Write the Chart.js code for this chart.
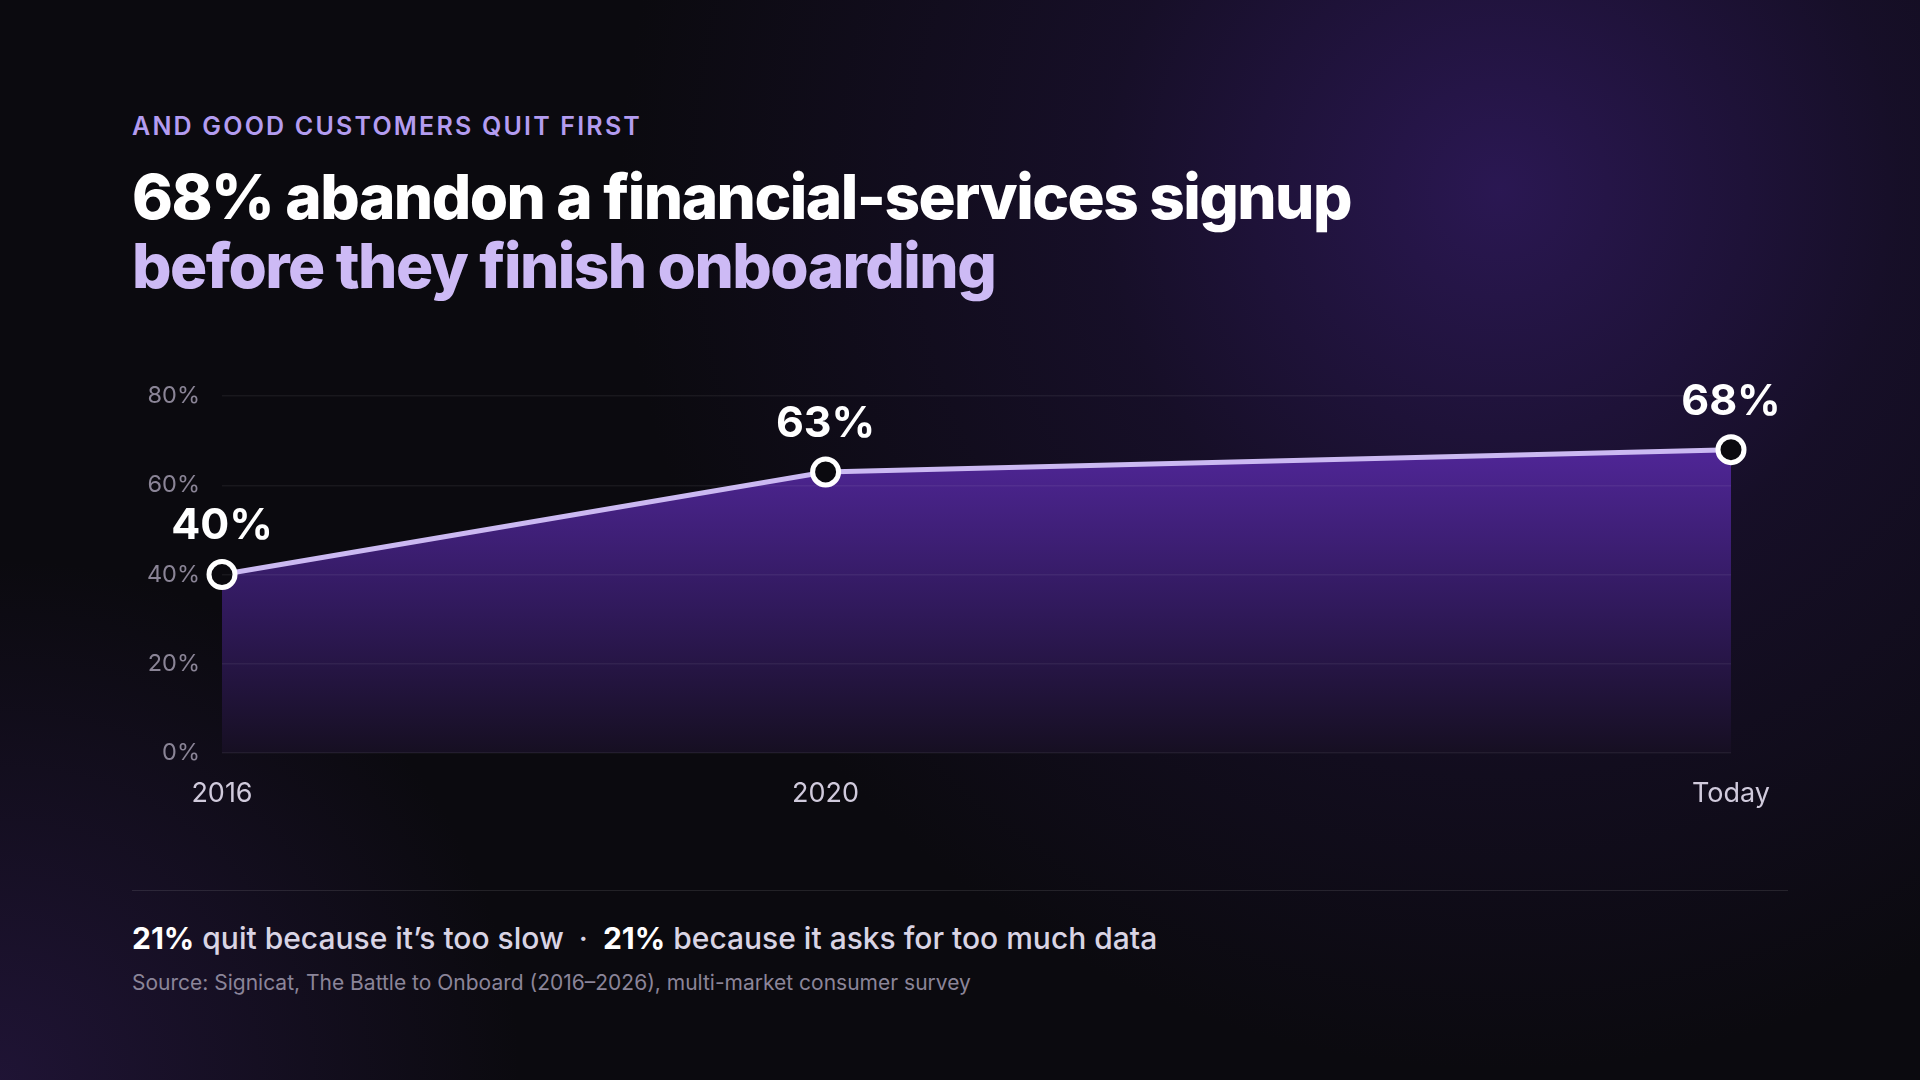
<!DOCTYPE html>
<html>
<head>
<meta charset="utf-8">
<script src="https://cdn.jsdelivr.net/npm/chart.js@4"></script>
<style>
  html, body { margin: 0; padding: 0; }
  body {
    width: 1920px; height: 1080px; overflow: hidden;
    font-family: Inter, "Noto Sans", sans-serif;
    background:
      radial-gradient(circle at 1500px 190px, rgba(44, 24, 86, 0.95) 0px, rgba(30, 18, 56, 0.6) 400px, rgba(11, 10, 15, 0) 880px),
      radial-gradient(circle at 0px 1080px, rgba(36, 22, 62, 0.8) 0px, rgba(11, 10, 15, 0) 520px),
      #0b0a0f;
    position: relative;
  }
  .eyebrow {
    position: absolute; left: 132px; top: 111px;
    font-size: 25px; font-weight: 600; letter-spacing: 0.088em;
    color: #b39cf0;
  }
  .title {
    position: absolute; left: 132px; top: 162px;
    font-size: 62px; font-weight: 800; line-height: 69px; letter-spacing: -0.025em;
    color: #ffffff;
  }
  .title span { color: #cdbaf5; }
  .rule {
    position: absolute; left: 132px; top: 890px; width: 1656px; height: 1px;
    background: rgba(255, 255, 255, 0.1);
  }
  .note {
    position: absolute; left: 132px; top: 920px;
    font-size: 30px; font-weight: 500; color: #d9d4e4;
  }
  .note b { color: #ffffff; font-weight: 700; }
  .note .dot { margin: 0 15px; }
  .source {
    position: absolute; left: 132px; top: 970px;
    font-size: 21px; color: #8b8599;
  }
  #wrap { position: absolute; left: 100px; top: 360px; width: 1700px; height: 470px; }
</style>
</head>
<body>
<div class="eyebrow">AND GOOD CUSTOMERS QUIT FIRST</div>
<div class="title">68% abandon a financial-services signup<br><span>before they finish onboarding</span></div>
<div id="wrap"><canvas id="myChart"></canvas></div>
<div class="rule"></div>
<div class="note"><b>21%</b> quit because it’s too slow<span class="dot">·</span><b>21%</b> because it asks for too much data</div>
<div class="source">Source: Signicat, The Battle to Onboard (2016–2026), multi-market consumer survey</div>
<script>
const years = [2016, 2020, 2026];
const tickLabels = ["2016", "2020", "Today"];
const abandonRate = [40, 63, 68];
const yTicks = [0, 20, 40, 60, 80];

const ctx = document.getElementById("myChart");

// value labels above each point
const pointLabels = {
  id: "pointLabels",
  afterDatasetsDraw(chart) {
    const c = chart.ctx;
    const meta = chart.getDatasetMeta(0);
    c.save();
    c.font = "700 43px Inter";
    c.fillStyle = "#ffffff";
    c.textAlign = "center";
    c.textBaseline = "middle";
    meta.data.forEach((pt, i) => {
      c.fillText(abandonRate[i] + "%", pt.x, pt.y - 48);
    });
    c.restore();
  },
};

new Chart(ctx, {
  type: "line",
  data: {
    datasets: [
      {
        data: years.map((x, i) => ({ x: x, y: abandonRate[i] })),
        borderColor: "#cbb9f2",
        borderWidth: 5,
        tension: 0,
        fill: "origin",
        backgroundColor: (context) => {
          const area = context.chart.chartArea;
          if (!area) return "rgba(80,40,150,0.6)";
          const g = context.chart.ctx.createLinearGradient(0, area.top + 50, 0, area.bottom);
          g.addColorStop(0, "rgba(80, 38, 152, 1)");
          g.addColorStop(0.5, "rgba(50, 26, 95, 1)");
          g.addColorStop(1, "rgba(22, 15, 34, 1)");
          return g;
        },
        pointRadius: 13,
        pointBorderWidth: 5,
        pointBackgroundColor: "#0b0a0f",
        pointBorderColor: "#ffffff",
        clip: false,
      },
    ],
  },
  options: {
    responsive: true,
    maintainAspectRatio: false,
    animation: false,
    layout: {
      padding: { top: 22, right: 69, bottom: 17, left: 0 },
    },
    scales: {
      x: {
        type: "linear",
        min: 2016,
        max: 2026,
        afterBuildTicks: (scale) => {
          scale.ticks = years.map((v) => ({ value: v }));
        },
        afterFit: (scale) => {
          scale.height = 60;
        },
        ticks: {
          padding: 17,
          color: "#d0cadc",
          font: { family: "Inter", size: 27 },
          callback: (value) => tickLabels[years.indexOf(value)],
        },
        grid: { display: false },
        border: { display: false },
      },
      y: {
        min: 0,
        max: 80,
        afterBuildTicks: (scale) => {
          scale.ticks = yTicks.map((v) => ({ value: v }));
        },
        afterFit: (scale) => {
          scale.width = 122;
        },
        ticks: {
          padding: 22,
          color: "#8a8496",
          font: { family: "Inter", size: 23.5 },
          callback: (value) => value + "%",
        },
        grid: {
          color: "rgba(255,255,255,0.06)",
          lineWidth: 1.5,
          drawTicks: false,
          z: 1,
        },
        border: { display: false },
      },
    },
    plugins: {
      legend: { display: false },
      tooltip: { enabled: false },
    },
  },
  plugins: [pointLabels],
});
</script>
</body>
</html>
